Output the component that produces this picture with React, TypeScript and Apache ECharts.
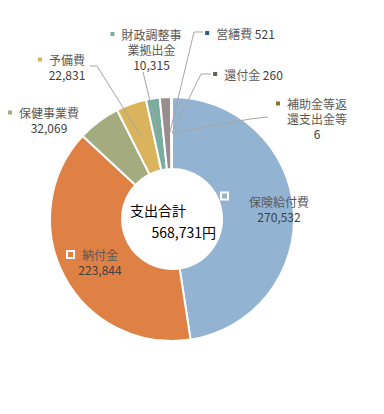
import React, { useEffect, useRef } from 'react';
import * as echarts from 'echarts';

// ---- data ----
const categories = ['保険給付費', '納付金', '保健事業費', '予備費', '財政調整事業拠出金', 'その他', '営繕費', '還付金', '補助金等返還支出金等'];
const values = [270532, 223844, 32069, 22831, 10315, 8353, 521, 260, 6];
const colors = ['#93B3D2', '#DF8045', '#A4AB7F', '#D9B45C', '#7AAD9D', '#978D8C', '#2E5B8A', '#5A6446', '#996E1E'];
const hiddenLabels = [5];
const centerTitle = '支出合計';
const unit = '円';

// ---- layout / style ----
const FONT = '"Noto Sans CJK JP", "Noto Sans", sans-serif';
const CENTER = [172, 219];
const RADIUS = [50, 122];
const labelPos: Record<number, [number, number]> = {
  0: [265.5, 208.5],
  1: [93, 262],
  2: [43.5, 120],
  3: [61.5, 67],
  4: [146, 49],
  6: [240, 33],
  7: [248, 74],
  8: [311.5, 118.5],
};
const linePts: Record<number, number[][]> = {
  3: [[90, 66], [97, 66], [142, 138]],
  4: [[143, 72], [143, 72], [157, 130]],
  6: [[203, 32], [194, 32], [170, 132]],
  7: [[211, 74], [201, 74], [172, 133]],
  8: [[268, 117], [250, 119], [172, 133]],
};
const insideIdx = [0, 1];
const singleLineIdx = [6, 7];

function buildRich() {
  const rich: any = {
    n: { fontSize: 12, color: '#595959', fontFamily: FONT, lineHeight: 15 },
    v: { fontSize: 12, color: '#404040', fontFamily: FONT, lineHeight: 15 },
    g7: { width: 7, lineHeight: 15 },
    g9: { width: 9, lineHeight: 15 },
    g22: { width: 22, lineHeight: 15 },
    p11: { width: 11, lineHeight: 15 },
    p14: { width: 14, lineHeight: 15 },
    p27: { width: 27, lineHeight: 15 },
  };
  colors.forEach((c, i) => {
    if (insideIdx.includes(i)) {
      rich['m' + i] = {
        width: 5, height: 5, backgroundColor: c, borderColor: '#ffffff', borderWidth: 2,
        verticalAlign: i === 0 ? 'top' : 'middle',
      };
    } else {
      rich['m' + i] = { width: 4, height: 4, backgroundColor: c };
    }
  });
  return rich;
}

export default function App() {
  const ref = useRef<HTMLDivElement>(null);
  useEffect(() => {
    if (!ref.current) return;
    const chart = echarts.init(ref.current, undefined, { renderer: 'svg' });
    const total = values.reduce((a, b) => a + b, 0);
    const sliceData = categories.map((name, i) => ({
      name,
      value: values[i],
      itemStyle: { color: colors[i] },
    }));
    const labelData = categories.map((name, i) => ({
      name,
      value: values[i],
      label: { show: !hiddenLabels.includes(i) },
      labelLine: { show: linePts[i] != null },
    }));
    chart.setOption({
      animation: false,
      backgroundColor: '#ffffff',
      graphic: [
        {
          type: 'text', x: 130, y: 210, z: 10,
          style: { text: centerTitle, align: 'left', verticalAlign: 'middle', fontSize: 14, fontFamily: FONT, fill: '#000000' },
        },
        {
          type: 'text', x: 216, y: 232, z: 10,
          style: { text: total.toLocaleString('en-US') + unit, align: 'right', verticalAlign: 'middle', fontSize: 14, fontFamily: FONT, fill: '#000000' },
        },
      ],
      series: [
        {
          type: 'pie',
          z: 2,
          center: CENTER,
          radius: RADIUS,
          startAngle: 90,
          clockwise: true,
          silent: true,
          emphasis: { disabled: true },
          itemStyle: { borderColor: '#ffffff', borderWidth: 2 },
          label: { show: false },
          labelLine: { show: false },
          data: sliceData,
        },
        {
          type: 'pie',
          z: 3,
          center: CENTER,
          radius: RADIUS,
          startAngle: 90,
          clockwise: true,
          silent: true,
          avoidLabelOverlap: false,
          emphasis: { disabled: true },
          itemStyle: { color: 'rgba(0,0,0,0)', borderWidth: 0 },
          label: {
            show: true,
            position: 'outside',
            rich: buildRich(),
            formatter: (p: any) => {
              const i = p.dataIndex;
              const v = values[i].toLocaleString('en-US');
              if (singleLineIdx.includes(i)) {
                return `{m${i}|}{g7|}{n|${p.name} }{v|${v}}`;
              }
              const parts: string[] = p.name.match(/.{1,5}/g) || [p.name];
              const gap = i === 0 ? 'g22' : i === 1 ? 'g9' : 'g7';
              const pad = i === 0 ? 'p27' : i === 1 ? 'p14' : 'p11';
              const out = [`{m${i}|}{${gap}|}{n|${parts[0]}}`];
              for (let k = 1; k < parts.length; k++) out.push(`{${pad}|}{n|${parts[k]}}`);
              out.push(`{${pad}|}{v|${v}}`);
              return out.join('\n');
            },
          },
          labelLine: { show: true, lineStyle: { color: '#A6A6A6', width: 1 } },
          labelLayout: (params: any) => {
            const i = params.dataIndex;
            const pos = labelPos[i];
            if (!pos) return {};
            const o: any = { x: pos[0], y: pos[1], align: 'center', verticalAlign: 'middle' };
            if (linePts[i]) o.labelLinePoints = linePts[i];
            return o;
          },
          data: labelData,
        },
      ],
    });
    return () => chart.dispose();
  }, []);
  return (
    <div
      ref={ref}
      style={{ position: 'absolute', left: 0, top: 0, width: 384, height: 414, background: '#ffffff' }}
    />
  );
}
